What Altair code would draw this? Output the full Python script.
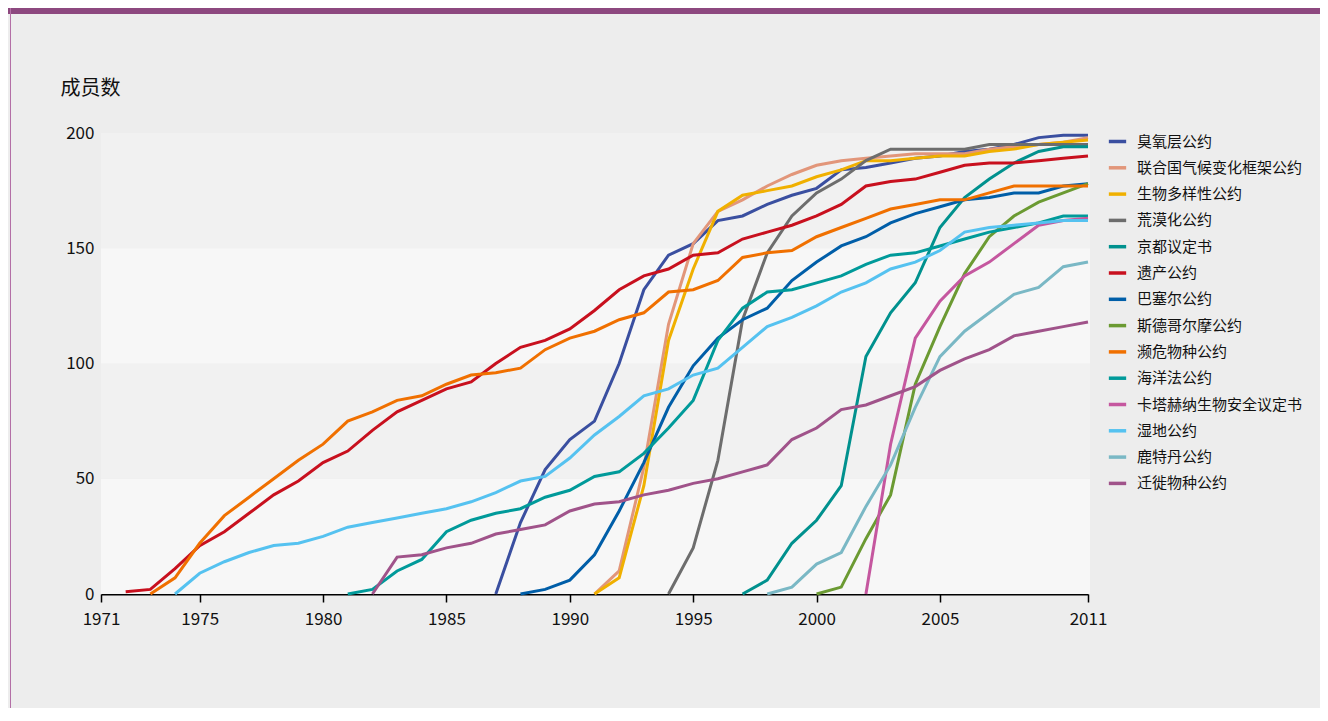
import altair as alt
import pandas as pd

# ---------------- data ----------------
names = [
    "臭氧层公约", "联合国气候变化框架公约", "生物多样性公约", "荒漠化公约", "京都议定书",
    "遗产公约", "巴塞尔公约", "斯德哥尔摩公约", "濒危物种公约", "海洋法公约",
    "卡塔赫纳生物安全议定书", "湿地公约", "鹿特丹公约", "迁徙物种公约",
]
colors = [
    "#3a4fa0", "#e2967a", "#f0b000", "#6d6d6d", "#00918e",
    "#c8101e", "#005ea8", "#6b9a32", "#f07000", "#009a9a",
    "#c5579f", "#55c2f0", "#7ab8c5", "#a0538a",
]
start_years = [1987, 1991, 1991, 1994, 1997, 1972, 1988, 2000, 1973, 1981, 2002, 1974, 1998, 1982]

ozone = [0, 31, 54, 67, 75, 100, 132, 147, 152, 162, 164, 169, 173, 176, 184, 185, 187, 189, 190, 192, 193, 195, 198, 199, 199]
unfccc = [0, 10, 55, 117, 152, 166, 171, 177, 182, 186, 188, 189, 190, 191, 191, 191, 193, 194, 195, 196, 198]
cbd = [0, 7, 47, 110, 141, 166, 173, 175, 177, 181, 184, 188, 188, 189, 190, 190, 192, 193, 195, 196, 197]
desert = [0, 20, 58, 119, 148, 164, 174, 180, 188, 193, 193, 193, 193, 195, 195, 195, 195, 195]
kyoto = [0, 6, 22, 32, 47, 103, 122, 135, 159, 172, 180, 187, 192, 194, 194]
heritage = [1, 2, 11, 21, 27, 35, 43, 49, 57, 62, 71, 79, 84, 89, 92, 100, 107, 110, 115, 123,
            132, 138, 141, 147, 148, 154, 157, 160, 164, 169, 177, 179, 180, 183, 186, 187, 187, 188, 189, 190]
basel = [0, 2, 6, 17, 36, 57, 81, 99, 111, 119, 124, 136, 144, 151, 155, 161, 165, 168, 171, 172, 174, 174, 177, 178]
stockholm = [0, 3, 24, 43, 91, 116, 139, 155, 164, 170, 174, 178]
cites = [0, 7, 22, 34, 42, 50, 58, 65, 75, 79, 84, 86, 91, 95, 96, 98, 106, 111, 114, 119,
         122, 131, 132, 136, 146, 148, 149, 155, 159, 163, 167, 169, 171, 171, 174, 177, 177, 177, 177]
unclos = [0, 2, 10, 15, 27, 32, 35, 37, 42, 45, 51, 53, 61, 72, 84, 110, 124, 131, 132, 135,
          138, 143, 147, 148, 151, 154, 157, 159, 161, 164, 164]
cartagena = [0, 65, 111, 127, 138, 144, 152, 160, 162, 163]
ramsar = [0, 9, 14, 18, 21, 22, 25, 29, 31, 33, 35, 37, 40, 44, 49, 51, 59, 69, 77, 86,
          89, 95, 98, 107, 116, 120, 125, 131, 135, 141, 144, 149, 157, 159, 160, 161, 162, 162]
rotterdam = [0, 3, 13, 18, 38, 56, 81, 103, 114, 122, 130, 133, 142, 144]
cms = [0, 16, 17, 20, 22, 26, 28, 30, 36, 39, 40, 43, 45, 48, 50, 53, 56, 67, 72, 80,
       82, 86, 90, 97, 102, 106, 112, 114, 116, 118]

series_values = [ozone, unfccc, cbd, desert, kyoto, heritage, basel, stockholm, cites,
                 unclos, cartagena, ramsar, rotterdam, cms]

x_ticks = [1971, 1975, 1980, 1985, 1990, 1995, 2000, 2005, 2011]
y_ticks = [0, 50, 100, 150, 200]
band_lo = [0, 50, 100, 150]
band_hi = [50, 100, 150, 200]
band_fill = ["#f7f7f7", "#f1f1f1", "#f7f7f7", "#f1f1f1"]

# ---------------- build table ----------------
rows = []
for order, (name, start, vals) in enumerate(zip(names, start_years, series_values)):
    for i, v in enumerate(vals):
        rows.append({"公约": name, "年份": start + i, "成员数": v, "order": order})
df = pd.DataFrame(rows)
bands_df = pd.DataFrame({"lo": band_lo, "hi": band_hi, "fill": band_fill})

FONT = "Noto Sans CJK SC"
W, H = 987, 461
PAD_L, PAD_T = 93, 125
TOTAL_W, TOTAL_H = 1312, 700

yscale = alt.Scale(domain=[0, 200], nice=False)
xscale = alt.Scale(domain=[1971, 2011], nice=False, zero=False)

bands = alt.Chart(bands_df).mark_rect().encode(
    x=alt.value(0),
    x2=alt.value(W + 2),
    y=alt.Y("lo:Q", scale=yscale),
    y2="hi:Q",
    fill=alt.Fill("fill:N", scale=None),
)

one = pd.DataFrame({"a": [0]})
top_bar = alt.Chart(one).mark_rect(color="#8d487f").encode(
    x=alt.value(-PAD_L), x2=alt.value(TOTAL_W - PAD_L),
    y=alt.value(-PAD_T), y2=alt.value(-PAD_T + 6),
)
left_line = alt.Chart(one).mark_rect(color="#b36fa6").encode(
    x=alt.value(-PAD_L + 2), x2=alt.value(-PAD_L + 3),
    y=alt.value(-PAD_T), y2=alt.value(TOTAL_H - PAD_T),
)

lines = alt.Chart(df).mark_line(strokeWidth=3, strokeJoin="miter").encode(
    x=alt.X("年份:Q", scale=xscale,
            axis=alt.Axis(values=x_ticks, format="d", title=None, grid=False,
                          tickSize=8, tickWidth=1.5, tickColor="#000000",
                          domainColor="#000000", domainWidth=2,
                          labelFontSize=17, labelPadding=9, labelColor="#111111",
                          labelFont=FONT, labelFlush=False)),
    y=alt.Y("成员数:Q", scale=yscale,
            axis=alt.Axis(values=y_ticks, domain=False, ticks=False, grid=False,
                          labelFontSize=17, labelPadding=7, labelColor="#111111",
                          labelFont=FONT,
                          title="成员数", titleAngle=0, titleAlign="left",
                          titleBaseline="middle", titleX=-41, titleY=-45,
                          titleFont=FONT, titleFontSize=20, titleFontWeight="normal",
                          titleColor="#111111")),
    color=alt.Color("公约:N", scale=alt.Scale(domain=names, range=colors),
                    legend=alt.Legend(title=None, orient="none", legendX=1006, legendY=-2,
                                      symbolType="stroke", symbolSize=300,
                                      symbolStrokeWidth=3.5, labelFontSize=15,
                                      labelFont=FONT, labelColor="#111111",
                                      rowPadding=7.3, labelOffset=9, padding=0,
                                      labelLimit=300)),
    order=alt.Order("order:Q"),
    detail="公约:N",
)

chart = alt.layer(top_bar, left_line, bands, lines).properties(
    width=W, height=H,
    autosize=alt.AutoSizeParams(type="none"),
    padding={"left": PAD_L, "top": PAD_T, "right": TOTAL_W - PAD_L - W, "bottom": TOTAL_H - PAD_T - H},
    background="#ededed",
).configure_view(stroke=None)

chart.save("out.html", embed_options={"renderer": "svg", "actions": False})
